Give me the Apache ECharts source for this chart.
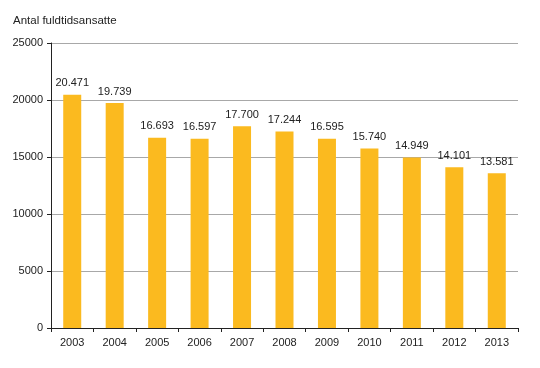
<!DOCTYPE html>
<html><head><meta charset="utf-8">
<script src="https://cdn.jsdelivr.net/npm/echarts@6/dist/echarts.min.js"></script>
<style>html,body{margin:0;padding:0;background:#fff}#c{width:540px;height:368px}</style>
</head><body><div id="c"></div>
<script>
const years = ['2003','2004','2005','2006','2007','2008','2009','2010','2011','2012','2013'];
const values = [20471,19739,16693,16597,17700,17244,16595,15740,14949,14101,13581];
const yTitle = 'Antal fuldtidsansatte';

const chart = echarts.init(document.getElementById('c'), null, {renderer:'canvas'});
const font = 'Liberation Sans, Arial, sans-serif';
chart.setOption({
  animation:false,
  backgroundColor:'#fff',
  title:{text:yTitle,left:8,top:10,textStyle:{fontFamily:font,fontSize:11.5,fontWeight:'normal',color:'#222'}},
  grid:{left:51,right:22,top:43,bottom:40,containLabel:false},
  xAxis:{type:'category',data:years,
    axisLine:{lineStyle:{color:'#222',width:1}},
    axisTick:{show:true,alignWithLabel:false,length:4,lineStyle:{color:'#222'}},
    axisLabel:{fontFamily:font,fontSize:11,color:'#222',margin:9}},
  yAxis:{type:'value',min:0,max:25000,interval:5000,
    axisLine:{show:true,lineStyle:{color:'#222'}},
    axisTick:{show:true,length:4,lineStyle:{color:'#222'}},
    axisLabel:{fontFamily:font,fontSize:11,color:'#222',margin:8,formatter:v=>String(v)},
    splitLine:{lineStyle:{color:'#a8a8a8',type:'solid',width:1}}},
  series:[{type:'bar',data:values,barWidth:18,
    itemStyle:{color:'#FBBA1F'},
    label:{show:true,position:'top',distance:6,fontFamily:font,fontSize:11,color:'#222',
      formatter:p=>{const s=String(p.value);return s.length>3?s.slice(0,s.length-3)+'.'+s.slice(-3):s;}}}]
});
</script></body></html>
